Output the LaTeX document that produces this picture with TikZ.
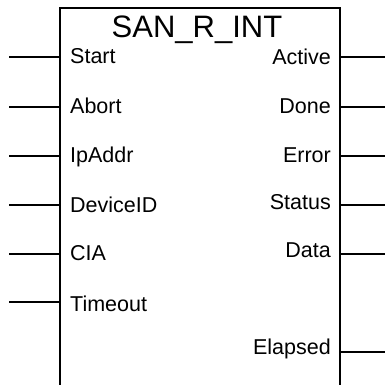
\documentclass[tikz,border=0pt]{standalone}
\usepackage{fontspec}
\setmainfont{Liberation Sans}
\begin{document}
\begin{tikzpicture}[x=1pt,y=-1pt,
  pin/.style={line width=2.2pt},
  inlbl/.style={anchor=base west,inner sep=0pt,font=\fontsize{21.5}{21.5}\selectfont},
  outlbl/.style={anchor=base east,inner sep=0pt,font=\fontsize{21.5}{21.5}\selectfont}]
\useasboundingbox (0,0) rectangle (385,384);
% block outline
\coordinate (bl) at (60,385);
\coordinate (tl) at (60,8);
\coordinate (tr) at (340,8);
\coordinate (br) at (340,385);
\draw[line width=2.4pt] (bl) -- (tl) -- (tr) -- (br);
\node[anchor=base,inner sep=0pt,font=\fontsize{31}{31}\selectfont] (title) at (197,37) {SAN\_R\_INT};
% inputs
\foreach \n/\y/\b in {Start/57/63,Abort/107/113,IpAddr/156/162,DeviceID/205/212,CIA/254/260,Timeout/302/311}{
  \coordinate (i\n) at (60,\y);
  \coordinate (e\n) at (9,\y);
  \draw[pin] (e\n) -- (i\n);
  \node[inlbl] (l\n) at (70,\b) {\n};
}
% outputs
\foreach \n/\y/\b in {Active/57/64,Done/107/113,Error/156/162,Status/205/209,Data/254/257,Elapsed/352/354}{
  \coordinate (o\n) at (340,\y);
  \coordinate (f\n) at (385,\y);
  \draw[pin] (o\n) -- (f\n);
  \node[outlbl] (r\n) at (331,\b) {\n};
}
\end{tikzpicture}
\end{document}
